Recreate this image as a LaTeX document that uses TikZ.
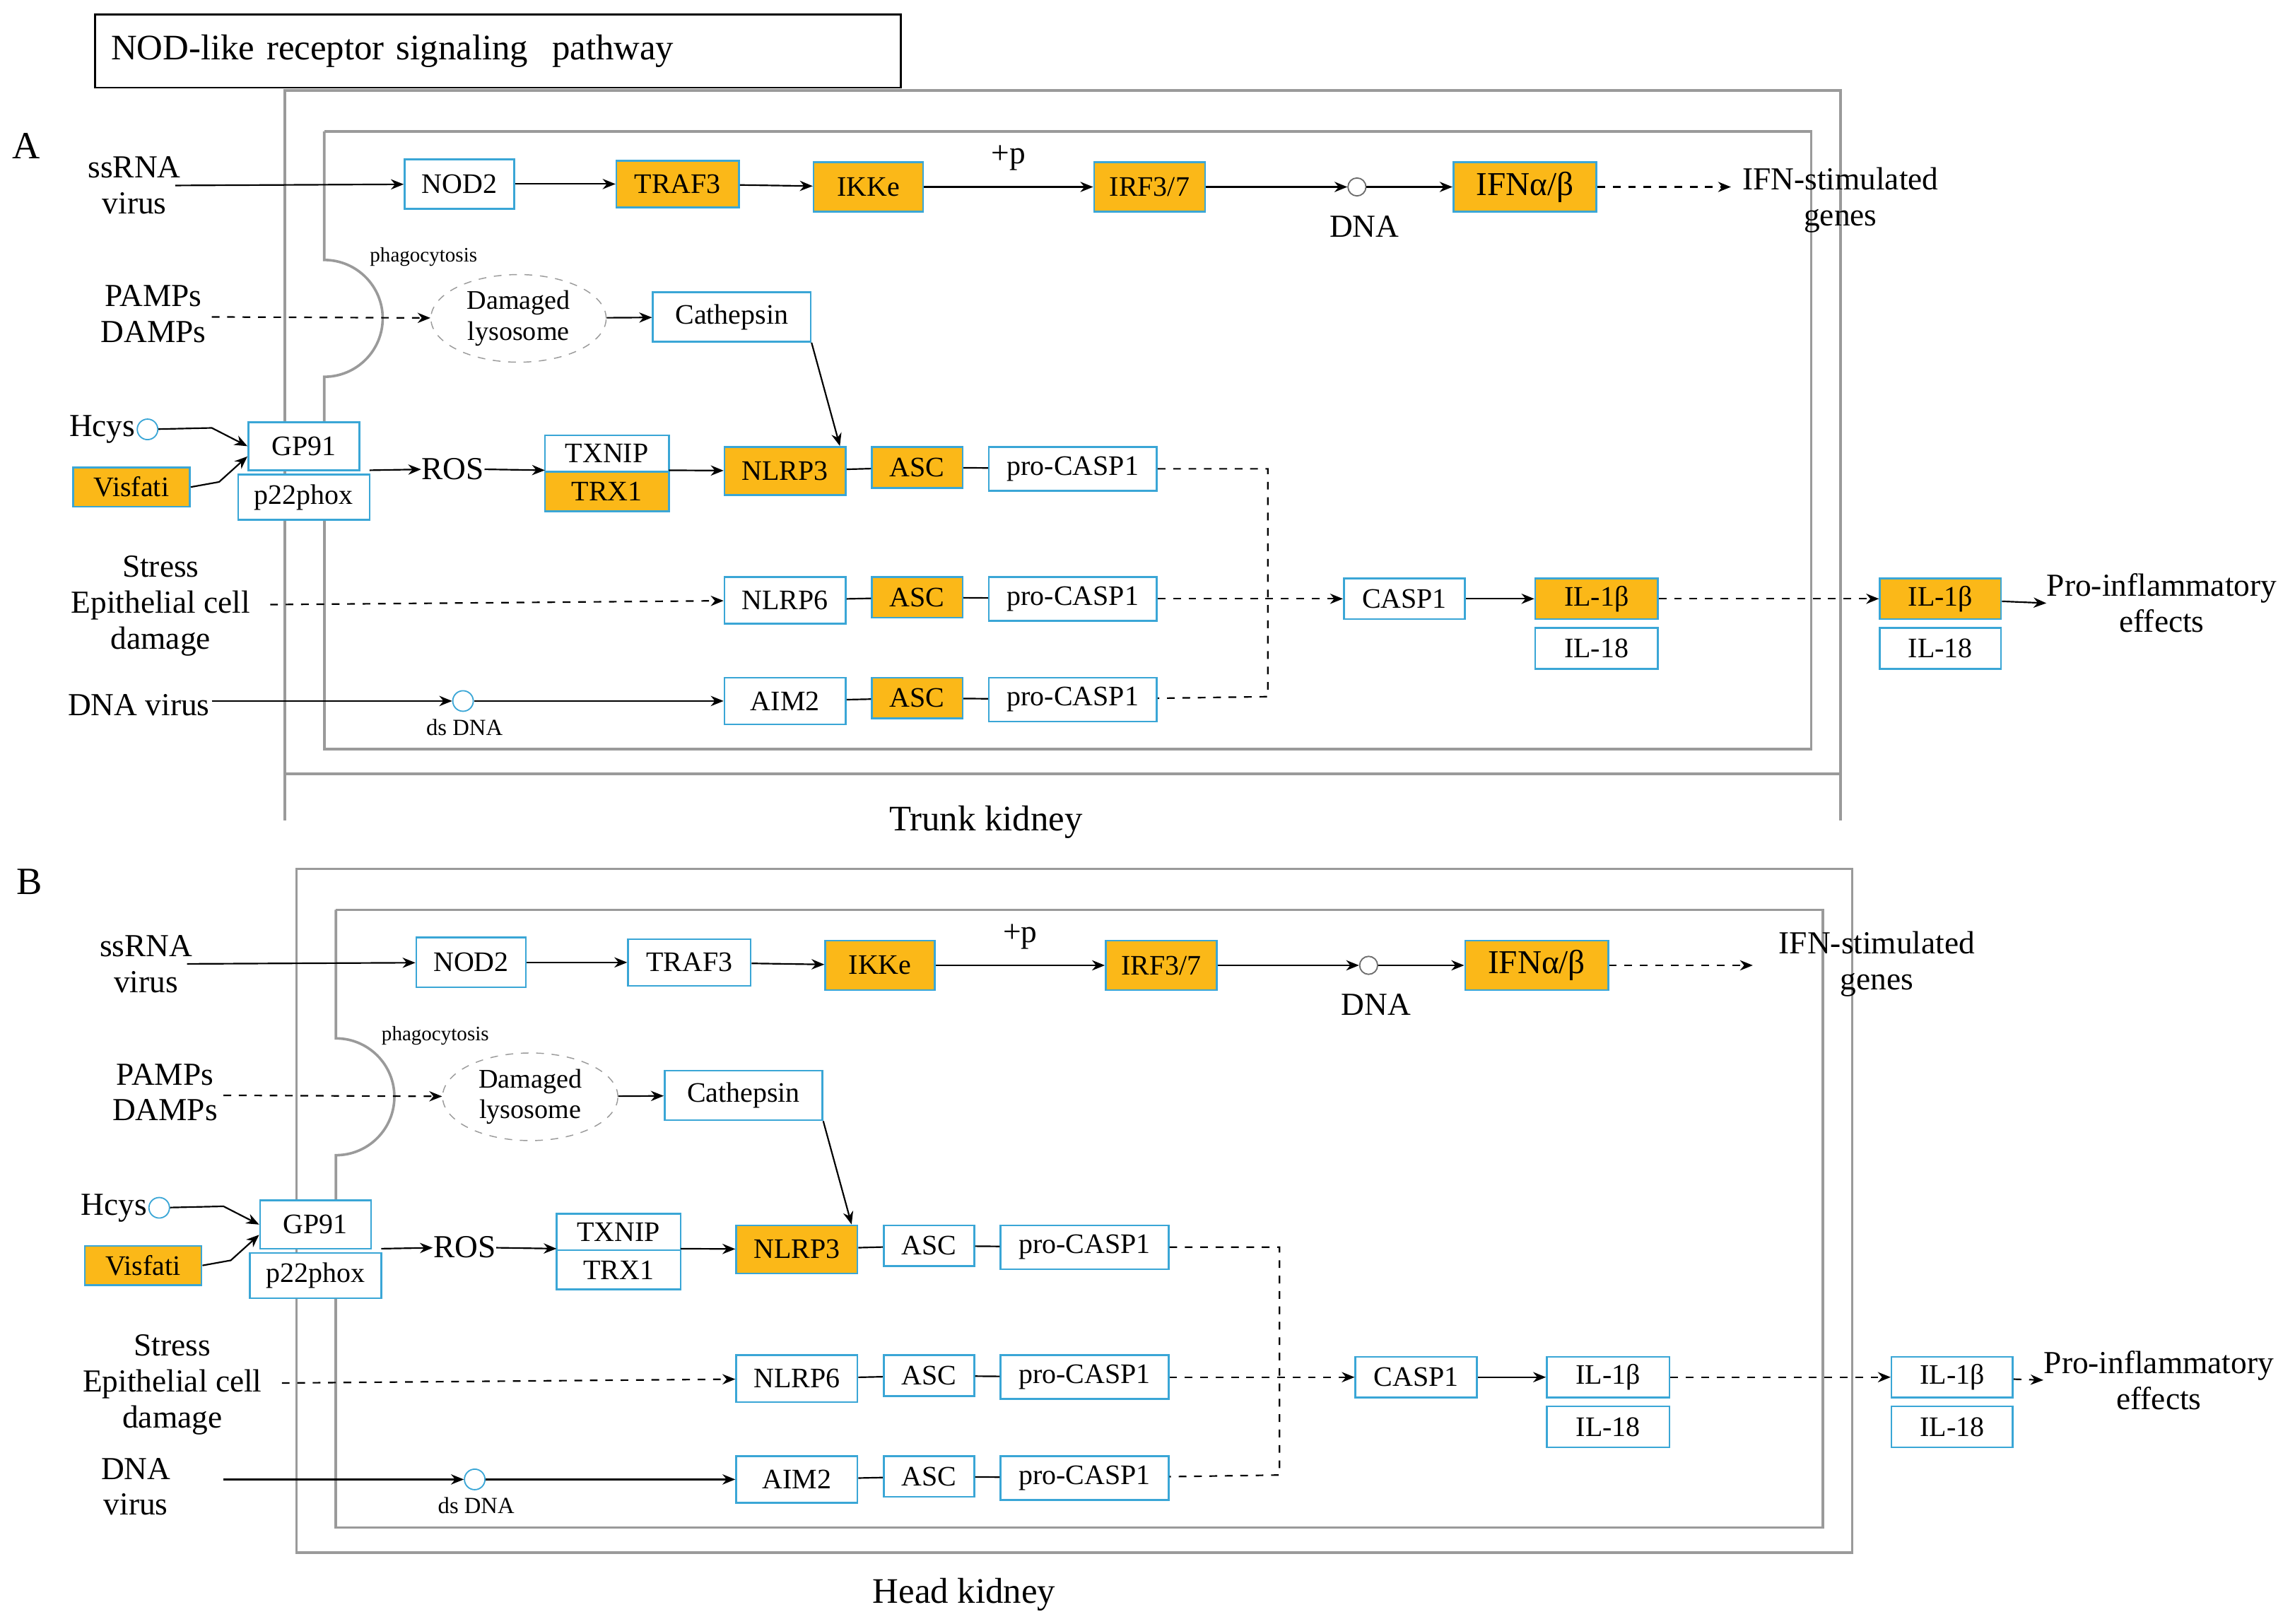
\documentclass[tikz,border=0pt]{standalone}
\usepackage{fontspec}
\setmainfont{Liberation Serif}
\usetikzlibrary{arrows.meta,shapes.geometric}
\definecolor{org}{HTML}{FBB818}
\definecolor{bc}{HTML}{3AA6D6}
\definecolor{gr}{HTML}{9A9A9A}
\tikzset{
 box/.style={draw=bc,line width=0.7pt,inner sep=0pt,font=\fontsize{11}{13}\selectfont},
 lab/.style={font=\fontsize{12.5}{14}\selectfont,align=center,inner sep=0pt},
 sm/.style={font=\fontsize{8}{9}\selectfont,inner sep=0pt},
 ar/.style={-{Stealth[length=5pt,width=4pt]},line width=0.6pt},
 ln/.style={line width=0.6pt},
 da/.style={ar,dashed},
 frm/.style={draw=gr,line width=1pt},
}
\newcommand\bx[7]{\node[box,fill=#6,minimum width={(#3-#2)*0.02cm},minimum height={(#5-#4)*0.02cm}] (#1) at ({(#2+#3)/2},{(#4+#5)/2}) {#7};}
\newcommand\panel[5]{%
 \draw[frm] (195,62) rectangle (1260,530);
 \draw[frm] (222,90) -- (1240,90) -- (1240,513) -- (222,513) -- (222,356);
 \draw[frm] (222,289) -- (222,258) arc[start angle=90,end angle=-90,radius=40] -- (222,90);
 \node[sm] (#1phago) at (290,176) {phagocytosis};
 % row 1
 \node[lab] (#1ss) at (92,127) {ssRNA\\virus};
 \bx{#1nod}{277}{352}{109}{143}{white}{NOD2}
 \bx{#1traf}{422}{506}{110}{142}{#2}{TRAF3}
 \bx{#1ikk}{557}{632}{111}{145}{org}{IKKe}
 \bx{#1irf}{749}{825}{111}{145}{org}{IRF3/7}
 \node[draw=gr!70!black,circle,inner sep=0pt,minimum size=7pt,line width=0.5pt] (#1dna) at (929,128) {};
 \node[lab] (#1dnal) at (934,155) {DNA};
 \node[box,fill=org,minimum width=1.96cm,minimum height=0.68cm,font=\fontsize{13}{15}\selectfont] (#1ifn) at (1044,128) {IFNα/β};
 \draw[ar] (120,127) -- (#1nod);
 \draw[ar] (#1nod) -- (#1traf);
 \draw[ar] (#1traf) -- (#1ikk);
 \draw[ar] (#1ikk) -- node[lab,above=6pt]{+p} (#1irf);
 \draw[ar] (#1irf) -- (#1dna);
 \draw[ar] (#1dna) -- (#1ifn);
 % row 2
 \node[lab] (#1pamp) at (105,215) {PAMPs\\DAMPs};
 \node[draw=gr,dashed,ellipse,minimum width=2.4cm,minimum height=1.2cm,inner sep=0pt,font=\fontsize{10.5}{12}\selectfont,align=center] (#1lys) at (355,218) {Damaged\\lysosome};
 \bx{#1cat}{447}{555}{200}{234}{white}{Cathepsin}
 \draw[da] (145,217) -- (#1lys);
 \draw[ar] (#1lys) -- (#1cat);
 % row 3
 \node[lab] (#1hc) at (70,294) {Hcys};
 \node[draw=bc,circle,inner sep=0pt,minimum size=8pt,line width=0.5pt] (#1hcc) at (101,294) {};
 \bx{#1vis}{50}{130}{320}{347}{org}{Visfati}
 \bx{#1gp}{170}{246}{289}{322}{white}{GP91}
 \bx{#1p22}{163}{253}{325}{356}{white}{p22phox}
 \node[lab] (#1ros) at (310,321) {ROS};
 \bx{#1tx}{373}{458}{298}{323}{white}{TXNIP}
 \bx{#1trx}{373}{458}{323}{350}{#3}{TRX1}
 \bx{#1nl3}{496}{579}{306}{339}{org}{NLRP3}
 \bx{#1asc3}{597}{659}{306}{334}{#4}{ASC}
 \bx{#1pc3}{677}{792}{306}{336}{white}{pro-CASP1}
 \draw[ar] (#1hcc) -- (145,293) -- (#1gp.west);
 \draw[ar] (#1vis.east) -- (150,330) -- ([yshift=-4pt]#1gp.west);
 \draw[ar] (253,322) -- (#1ros);
 \draw[ar] (#1ros) -- (373,322);
 \draw[ar] (458,322) -- (#1nl3);
 \draw[ln] (#1nl3) -- (#1asc3);
 \draw[ln] (#1asc3) -- (#1pc3);
 \draw[ar] (#1cat.south east) -- (#1nl3.north -| 575,0);
 % row 4
 \node[lab] (#1st) at (110,415) {Stress\\Epithelial cell\\damage};
 \bx{#1nl6}{496}{579}{395}{427}{white}{NLRP6}
 \bx{#1asc4}{597}{659}{395}{423}{#4}{ASC}
 \bx{#1pc4}{677}{792}{395}{425}{white}{pro-CASP1}
 \bx{#1casp}{920}{1003}{396}{424}{white}{CASP1}
 \bx{#1il}{1051}{1135}{396}{424}{#5}{IL-1β}
 \bx{#1ilb}{1051}{1135}{430}{458}{white}{IL-18}
 \bx{#1ilo}{1287}{1370}{396}{424}{#5}{IL-1β}
 \bx{#1ilob}{1287}{1370}{430}{458}{white}{IL-18}
 \draw[da] (185,414) -- (#1nl6);
 \draw[ln] (#1nl6) -- (#1asc4);
 \draw[ln] (#1asc4) -- (#1pc4);
 \draw[da] (#1pc4) -- (#1casp);
 \draw[ar] (#1casp) -- (#1il);
 \draw[da] (#1il) -- (#1ilo);
 % row 5
 \node[draw=bc,circle,inner sep=0pt,minimum size=8pt,line width=0.5pt] (#1ds) at (317,480) {};
 \node[sm,font=\fontsize{9}{10}\selectfont] (#1dsl) at (318,498) {ds DNA};
 \bx{#1aim}{496}{579}{464}{496}{white}{AIM2}
 \bx{#1asc5}{597}{659}{464}{492}{#4}{ASC}
 \bx{#1pc5}{677}{792}{464}{494}{white}{pro-CASP1}
 \draw[ar] (145,480) -- (#1ds);
 \draw[ar] (#1ds) -- (#1aim);
 \draw[ln] (#1aim) -- (#1asc5);
 \draw[ln] (#1asc5) -- (#1pc5);
 \draw[ln,dashed] (#1pc3) -- (868,321) -- (868,477) -- (#1pc5);
}
\begin{document}
\begin{tikzpicture}[x=0.02cm,y=-0.02cm]
\useasboundingbox (0,0) rectangle (1563,1112);
\node[draw,line width=0.8pt,minimum width=11.04cm,minimum height=1cm,text width=10.6cm,align=left,font=\fontsize{14}{16}\selectfont] (title) at (341,35) {NOD-like receptor signaling\ \ pathway};
\node[lab,font=\fontsize{15}{17}\selectfont] (A) at (18,100) {A};
\node[lab,font=\fontsize{15}{17}\selectfont] (B) at (20,604) {B};
\begin{scope}
 \panel{a}{org}{org}{org}{org}
 \node[lab] (adv) at (95,483) {DNA virus};
 \draw[da] (aifn) -- (1185,128);
 \node[lab] (aisg) at (1260,137) {IFN-stimulated\\genes};
 \node[lab] (apro) at (1480,413) {Pro-inflammatory\\effects};
 \draw[ar] (ailo) -- (apro.west);
 \draw[frm] (195,530) -- (195,562);
 \draw[frm] (1260,530) -- (1260,562);
 \node[lab,font=\fontsize{14}{16}\selectfont] (tk) at (675,563) {Trunk kidney};
\end{scope}
\begin{scope}[shift={(8,533)}]
 \panel{b}{white}{white}{white}{white}
 \node[lab] (bdv) at (85,485) {DNA\\virus};
 \draw[da] (bifn) -- (1192,128);
 \node[lab] (bisg) at (1277,127) {IFN-stimulated\\genes};
 \node[lab] (bpro) at (1470,412) {Pro-inflammatory\\effects};
 \draw[da] (bilo) -- (bpro.west);
 \node[lab,font=\fontsize{14}{16}\selectfont] (hk) at (652,559) {Head kidney};
\end{scope}
\end{tikzpicture}
\end{document}
